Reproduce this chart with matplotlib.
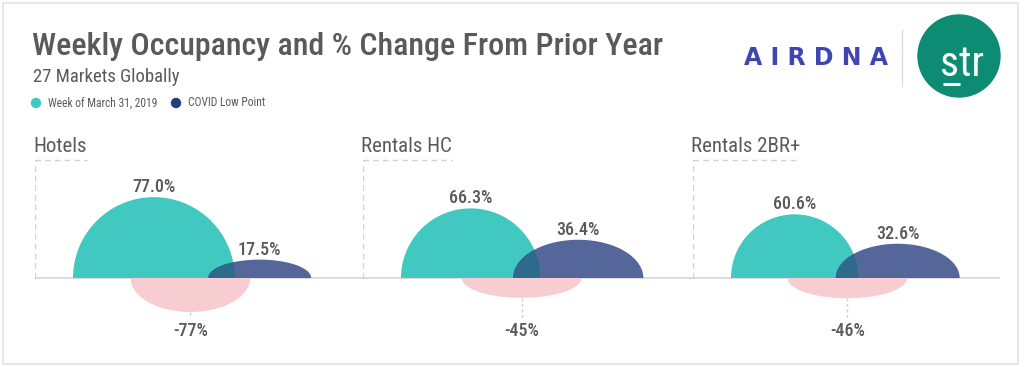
import numpy as np
import matplotlib

matplotlib.use("Agg")
import matplotlib.pyplot as plt
from matplotlib.patches import Polygon, Rectangle, Circle

# data
segments = ["Hotels", "Rentals HC", "Rentals 2BR+"]
occ_2019 = [77.0, 66.3, 60.6]        # week of March 31, 2019
occ_low = [17.5, 36.4, 32.6]         # COVID low point
pct_change = [-77, -45, -46]         # % change from prior year

# layout (pixels of the 1024x367 canvas, y from top)
W, H = 1024, 367
S = 1.05                      # pixels per occupancy point
BASE_Y = 278
AX_TOP, AX_BOT = 135, 355
panel_x0 = [35, 363, 693]
panel_x1 = [363, 693, 1000]
teal_offset = 36.2            # units from panel axis to teal left edge
navy_cx = [214, 205, 195]
navy_hw = [49, 62, 59]
pink_cx = [148, 151, 147]
pink_hw = 57
pink_k = 0.42

TEAL = "#41c8c1"
NAVY = "#55669a"
OVERLAP = "#2d6a8c"
PINK = "#f8cdd1"
GREY_TXT = "#5a5a5a"
DASH = "#d0d0d0"

FONT = ["Roboto Condensed", "Archivo Narrow", "DejaVu Sans"]
plt.rcParams["font.family"] = FONT

fig = plt.figure(figsize=(W / 100, H / 100), dpi=100)


def fx(x):
    return x / W


def fy(y):
    return 1 - y / H


def dome(cx, hw, h, n=120):
    t = np.linspace(0, np.pi, n)
    return np.column_stack([cx + hw * np.cos(t), h * np.sin(t)])


# header drawn in pixel coordinates
hd = fig.add_axes([0, 0, 1, 1])
hd.set_xlim(0, W)
hd.set_ylim(H, 0)
hd.axis("off")
hd.set_zorder(-1)

hd.add_patch(Rectangle((3, 3), 1015, 361, fill=False, edgecolor="#e3e3e3", lw=1.2))

hd.text(32, 55, "Weekly Occupancy and % Change From Prior Year", fontsize=23,
        fontweight="medium", color=GREY_TXT, va="baseline", ha="left")
hd.text(33, 82, "27 Markets Globally", fontsize=13.5, color=GREY_TXT, va="baseline", ha="left")
hd.add_patch(Circle((36, 103), 4.5, color=TEAL))
hd.text(48, 103, "Week of March 31, 2019", fontsize=8.3, color=GREY_TXT, va="center")
hd.add_patch(Circle((176, 103), 4.5, color="#243d7f"))
hd.text(188, 103, "COVID Low Point", fontsize=8.3, color=GREY_TXT, va="center")

# logos
hd.text(816, 58, "A I R D N A", fontsize=17, fontweight="bold", color="#3f45b3",
        family="DejaVu Sans", ha="center", va="center")
hd.plot([902, 902], [30, 86], color="#dddddd", lw=1)
hd.add_patch(Circle((959, 56), 41, color="#0e8c73"))
hd.text(962, 76, "str", fontsize=30, color="white", ha="center", va="baseline")
hd.plot([943, 960], [84, 84], color="white", lw=2.2, solid_capstyle="butt")

# panels
for i, seg in enumerate(segments):
    x0, x1 = panel_x0[i], panel_x1[i]
    ax = fig.add_axes([fx(x0), fy(AX_BOT), (x1 - x0) / W, (AX_BOT - AX_TOP) / H])
    ax.set_xlim(0, (x1 - x0) / S)
    ax.set_ylim(-(AX_BOT - BASE_Y) / S, (BASE_Y - AX_TOP) / S)
    ax.axis("off")

    top_u = (BASE_Y - 160) / S
    t = ax.text(-2 / S, (BASE_Y - 147) / S, seg, fontsize=15, color=GREY_TXT, ha="left", va="center")
    fig.canvas.draw()
    bb = t.get_window_extent().transformed(ax.transData.inverted())
    ax.plot([0, bb.x1], [top_u, top_u], ls=(0, (4, 3)), color=DASH, lw=1)
    ax.plot([0, 0], [0, top_u], ls=(0, (4, 3)), color=DASH, lw=1)
    ax.axhline(0, color="#d6d6d6", lw=1.2, zorder=1)

    v1, v2, dv = occ_2019[i], occ_low[i], pct_change[i]

    # pink change shape below the axis
    pk = dome(pink_cx[i], pink_hw, abs(dv) * pink_k)
    pk[:, 1] *= -1
    ax.add_patch(Polygon(pk, closed=True, color=PINK, lw=0, zorder=2))
    ax.plot([pink_cx[i]] * 2, [-abs(dv) * pink_k, -40 / S], ls=(0, (2, 2)), color=DASH, lw=1)
    ax.text(pink_cx[i], -53 / S, f"{dv}%", fontsize=13, fontweight="medium", color=GREY_TXT,
            ha="center", va="center")

    # teal semicircle
    tc = teal_offset + v1
    tpts = dome(tc, v1, v1)
    ax.add_patch(Polygon(tpts, closed=True, color=TEAL, lw=0, zorder=3))
    ax.text(tc, v1 + 10 / S, f"{v1:.1f}%", fontsize=13, fontweight="medium", color=GREY_TXT,
            ha="center", va="center")

    # navy dome and its overlap with teal
    npts = dome(navy_cx[i], navy_hw[i], v2)
    navy = Polygon(npts, closed=True, color=NAVY, lw=0, zorder=4)
    ax.add_patch(navy)
    ov = Polygon(tpts, closed=True, color=OVERLAP, lw=0, zorder=5)
    ax.add_patch(ov)
    ov.set_clip_path(navy)
    ax.text(navy_cx[i], v2 + 10 / S, f"{v2:.1f}%", fontsize=13, fontweight="medium",
            color=GREY_TXT, ha="center", va="center")

fig.savefig("out.png", dpi=100)
